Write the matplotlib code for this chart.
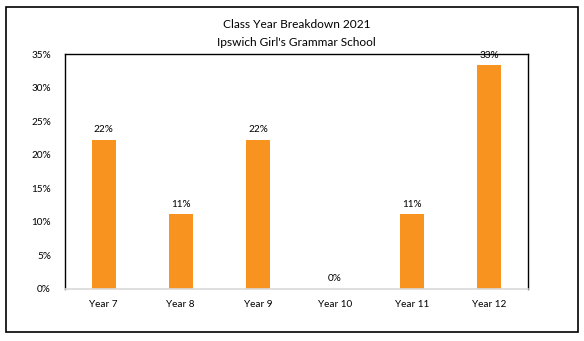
import matplotlib
matplotlib.use("Agg")
import matplotlib.pyplot as plt
from matplotlib.patches import Rectangle
from matplotlib.ticker import PercentFormatter

categories = ["Year 7", "Year 8", "Year 9", "Year 10", "Year 11", "Year 12"]
values = [2/9, 1/9, 2/9, 0.0, 1/9, 3/9]
labels = ["22%", "11%", "22%", "0%", "11%", "33%"]

plt.rcParams['font.family'] = ['Lato', 'DejaVu Sans']
W, H = 584, 341
fig = plt.figure(figsize=(W/100, H/100), dpi=100)
ax = fig.add_axes([65/W, 1-289/H, (528-65)/W, (289-54)/H])

x = range(len(categories))
ax.bar(x, values, width=0.31, color="#F7931E", zorder=2)
for xi, v, lab in zip(x, values, labels):
    ax.annotate(lab, (xi, v), xytext=(0, 4), textcoords="offset points",
                ha="center", va="bottom", fontsize=7.2, color="#000000", zorder=1)

ax.set_xlim(-0.5, len(categories)-0.5)
ax.set_ylim(0, 0.35)
ax.set_yticks([0, 0.05, 0.10, 0.15, 0.20, 0.25, 0.30, 0.35])
ax.yaxis.set_major_formatter(PercentFormatter(1.0, decimals=0))
ax.set_xticks(list(x))
ax.set_xticklabels(categories)
ax.tick_params(axis="both", length=0, labelsize=7.2, colors="#000000")
ax.tick_params(axis="x", pad=8)
ax.tick_params(axis="y", pad=10)
for s in ["top", "left", "right"]:
    ax.spines[s].set_color("black")
    ax.spines[s].set_linewidth(1.0)
ax.spines["bottom"].set_color("#D9D9D9")
ax.spines["bottom"].set_linewidth(1.2)
ax.spines["bottom"].set_zorder(3)

fig.text((65+528)/2/W, 1-24/H, "Class Year Breakdown 2021", ha="center", va="center", fontsize=8.6)
fig.text((65+528)/2/W, 1-42/H, "Ipswich Girl's Grammar School", ha="center", va="center", fontsize=8.6)

fig.patches.append(Rectangle((6/W, 1-332/H), (578-6)/W, (332-7)/H, transform=fig.transFigure,
                             fill=False, edgecolor="black", linewidth=1.2))

fig.savefig("out.png", dpi=100)
